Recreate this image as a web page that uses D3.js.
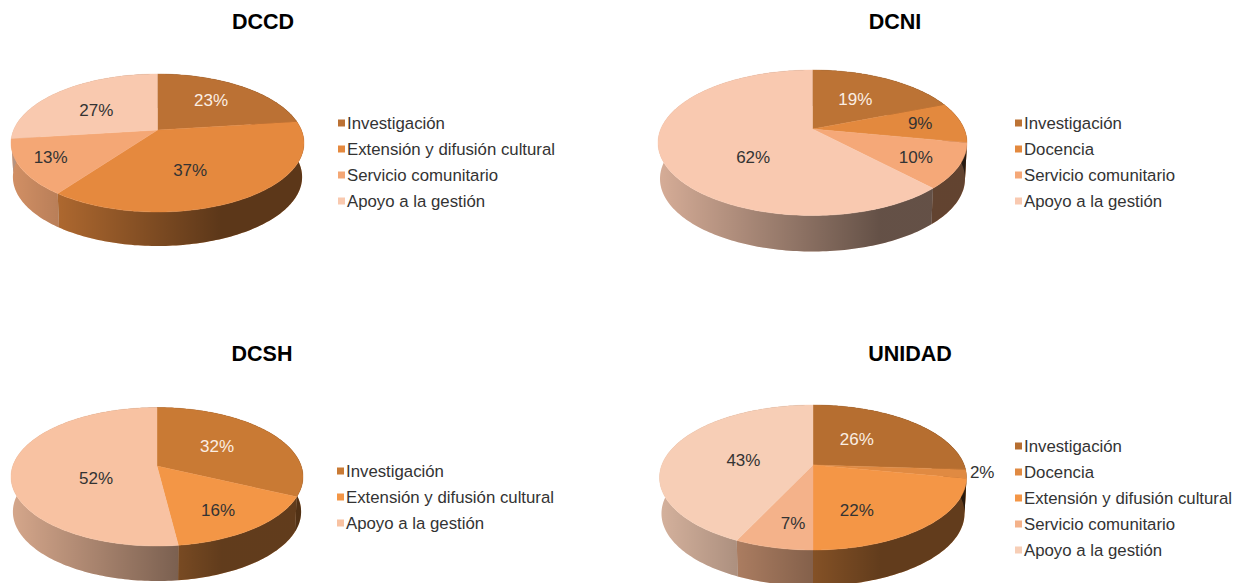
<!DOCTYPE html>
<html>
<head>
<meta charset="utf-8">
<script src="https://cdn.jsdelivr.net/npm/d3@7"></script>
<style>
  html, body { margin: 0; padding: 0; background: #fff; }
  svg { display: block; font-family: "Liberation Sans", Arial, sans-serif; }
</style>
</head>
<body>
<div id="chart"></div>
<script>
const titles = ['DCCD', 'DCNI', 'DCSH', 'UNIDAD'];

const dccdLabels = ['Investigación', 'Extensión y difusión cultural', 'Servicio comunitario', 'Apoyo a la gestión'];
const dccdValues = [23, 37, 13, 27];
const dcniLabels = ['Investigación', 'Docencia', 'Servicio comunitario', 'Apoyo a la gestión'];
const dcniValues = [19, 9, 10, 62];
const dcshLabels = ['Investigación', 'Extensión y difusión cultural', 'Apoyo a la gestión'];
const dcshValues = [32, 16, 52];
const unidadLabels = ['Investigación', 'Docencia', 'Extensión y difusión cultural', 'Servicio comunitario', 'Apoyo a la gestión'];
const unidadValues = [26, 2, 22, 7, 43];

const dccdColors = ['#bb7134', '#e5893e', '#f4a775', '#f9c9af'];
const dcniColors = ['#bc7335', '#e3893e', '#f5a878', '#f9c9b0'];
const dcshColors = ['#c97a34', '#f39646', '#f8c2a2'];
const unidadColors = ['#b66e30', '#e08a42', '#f49646', '#f4b28a', '#f7ceb6'];

// apex = where the slices meet, top/bottom = extent of the tilted disc
const layouts = [
  { cx: 157.5, apex: 130, top: 74, bottom: 212, rx: 146.5, depth: 34, titleX: 263, titleY: 29, swatchX: 338, textX: 347, legendY: 123,
    nudge: [[1, -3], [-16, 2], [-28, 5.5], [-1, 4.5]] },
  { cx: 812.5, apex: 129, top: 70, bottom: 215.5, rx: 154.5, depth: 36, titleX: 895, titleY: 29, swatchX: 1015, textX: 1024, legendY: 123,
    nudge: [[-4, 2], [18, -2], [19, 6.5], [29, 12]] },
  { cx: 157, apex: 466, top: 407.5, bottom: 546, rx: 146, depth: 35, titleX: 262, titleY: 361, swatchX: 337, textX: 346, legendY: 471,
    nudge: [[-9.5, 1], [6, 8.5], [26, 9.5]] },
  { cx: 813, apex: 465, top: 405, bottom: 550, rx: 153.5, depth: 36, titleX: 910, titleY: 361, swatchX: 1015, textX: 1024, legendY: 446,
    nudge: [[-18, 1], [78, 2], [-19, 10], [2, 12], [17, 4]] }
];

const series = [
  { labels: dccdLabels, values: dccdValues, colors: dccdColors },
  { labels: dcniLabels, values: dcniValues, colors: dcniColors },
  { labels: dcshLabels, values: dcshValues, colors: dcshColors },
  { labels: unidadLabels, values: unidadValues, colors: unidadColors }
];

const svg = d3.select('#chart').append('svg')
  .attr('width', 1240)
  .attr('height', 583);
const defs = svg.append('defs');

const pie = d3.pie().sort(null).value(d => d);
const line = d3.line().x(d => d[0]).y(d => d[1]);

function rim(a0, a1) {
  const n = Math.max(2, Math.ceil((a1 - a0) / 0.02));
  return d3.range(n + 1).map(i => a0 + (a1 - a0) * i / n);
}

series.forEach((s, idx) => {
  const l = layouts[idx];
  const up = l.apex - l.top;
  const down = l.bottom - l.apex;
  // perspective of a circle: the disc is nearer at the bottom
  const k = (down - up) / (down + up);
  const B = 2 * up * down / (down + up);
  const A = l.rx * Math.sqrt(1 - k * k);
  const project = (angle, r = 1) => {
    const u = r * Math.sin(angle);
    const v = -r * Math.cos(angle);
    const w = 1 - k * v;
    return [l.cx + A * u / w, l.apex + B * v / w];
  };
  const lower = p => [l.cx + (p[0] - l.cx) * 0.987, p[1] + l.depth];

  const gradId = 'shade' + idx;
  const lg = defs.append('linearGradient')
    .attr('id', gradId)
    .attr('gradientUnits', 'userSpaceOnUse')
    .attr('x1', l.cx - l.rx)
    .attr('x2', l.cx + l.rx)
    .attr('y1', 0)
    .attr('y2', 0);
  lg.append('stop').attr('offset', '0%').attr('stop-color', '#000').attr('stop-opacity', 0.14);
  lg.append('stop').attr('offset', '72%').attr('stop-color', '#000').attr('stop-opacity', 0.6);
  lg.append('stop').attr('offset', '100%').attr('stop-color', '#000').attr('stop-opacity', 0.6);

  const arcs = pie(s.values);
  const g = svg.append('g');

  const wallPath = d => {
    const upper = rim(d.startAngle, d.endAngle).map(a => project(a));
    return line(upper.concat(upper.map(lower).reverse())) + 'Z';
  };

  g.selectAll('path.wall').data(arcs).enter().append('path')
    .attr('class', 'wall')
    .attr('d', wallPath)
    .attr('fill', (d, i) => s.colors[i]);
  g.selectAll('path.wallshade').data(arcs).enter().append('path')
    .attr('class', 'wallshade')
    .attr('d', wallPath)
    .attr('fill', `url(#${gradId})`);

  g.selectAll('path.slice').data(arcs).enter().append('path')
    .attr('class', 'slice')
    .attr('d', d => {
      const pts = rim(d.startAngle, d.endAngle).map(a => project(a));
      return line([[l.cx, l.apex]].concat(pts)) + 'Z';
    })
    .attr('fill', (d, i) => s.colors[i])
    .attr('stroke', (d, i) => s.colors[i])
    .attr('stroke-width', 0.4);

  g.selectAll('text.pct').data(arcs).enter().append('text')
    .attr('class', 'pct')
    .attr('x', (d, i) => project((d.startAngle + d.endAngle) / 2, 0.6)[0] + l.nudge[i][0])
    .attr('y', (d, i) => project((d.startAngle + d.endAngle) / 2, 0.6)[1] + l.nudge[i][1])
    .attr('dy', '0.36em')
    .attr('text-anchor', 'middle')
    .attr('font-size', 17)
    .attr('fill', (d, i) => i === 0 ? '#fbeee3' : '#333')
    .text(d => d.value + '%');

  svg.append('text')
    .attr('x', l.titleX)
    .attr('y', l.titleY)
    .attr('text-anchor', 'middle')
    .attr('font-size', 21.5)
    .attr('font-weight', 'bold')
    .attr('fill', '#000')
    .text(titles[idx]);

  const legend = svg.append('g').selectAll('g').data(s.labels).enter().append('g')
    .attr('transform', (d, i) => `translate(0, ${l.legendY + i * 26})`);
  legend.append('rect')
    .attr('x', l.swatchX)
    .attr('y', -3.5)
    .attr('width', 7)
    .attr('height', 7)
    .attr('fill', (d, i) => s.colors[i]);
  legend.append('text')
    .attr('x', l.textX)
    .attr('dy', '0.36em')
    .attr('font-size', 16.8)
    .attr('fill', '#333')
    .text(d => d);
});
</script>
</body>
</html>
